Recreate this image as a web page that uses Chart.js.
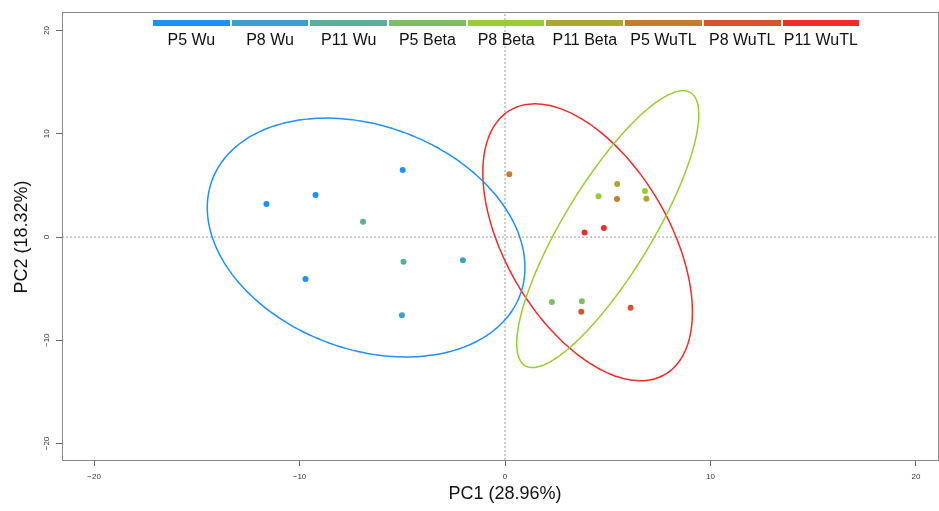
<!DOCTYPE html>
<html>
<head>
<meta charset="utf-8">
<script src="https://cdn.jsdelivr.net/npm/chart.js@4.4.1/dist/chart.umd.min.js"></script>
<style>
  html, body { margin: 0; background: #fff; overflow: hidden; }
  #wrap { position: relative; width: 939px; height: 511px; overflow: hidden; }
  #pca { display: block; width: 943px; height: 511px; }
  #legend { position: absolute; left: 152px; top: 20px; display: flex; font-family: 'Liberation Sans', Arial, sans-serif; }
  .leg-item { width: 78.7px; text-align: center; }
  .leg-bar { height: 6px; margin: 0 1px; }
  .leg-label { font-size: 16px; color: #111; margin-top: 5px; white-space: nowrap; }
</style>
</head>
<body>
<div id="wrap">
  <canvas id="pca" width="943" height="511"></canvas>
  <div id="legend"></div>
</div>
<script>
// sample groups, one colour each (blue -> yellowgreen -> red ramp)
const groups = ['P5 Wu', 'P8 Wu', 'P11 Wu', 'P5 Beta', 'P8 Beta', 'P11 Beta', 'P5 WuTL', 'P8 WuTL', 'P11 WuTL'];
const groupColors = ['#1e90ff', '#3d9fcc', '#5cae99', '#7bbe65', '#9acd32', '#afa531', '#c47d2f', '#d9542e', '#ee2c2c'];

// PC scores per group
const pc1 = [
  [-11.61, -9.22, -4.98, -9.71],
  [-5.02, -2.05],
  [-6.91, -4.94],
  [2.28, 3.74],
  [4.55, 6.81],
  [5.46, 6.88],
  [0.21, 5.45],
  [3.71, 6.11],
  [3.87, 4.81],
];
const pc2 = [
  [3.19, 4.07, 6.49, -4.07],
  [-7.58, -2.26],
  [1.48, -2.39],
  [-6.29, -6.22],
  [3.94, 4.45],
  [5.13, 3.71],
  [6.07, 3.68],
  [-7.23, -6.84],
  [0.45, 0.87],
];

// confidence ellipses for the three treatments
const ellipseColors = ['#1e90ff', '#9acd32', '#ee2c2c'];
const ellipseCx = [-6.76, 5.00, 4.02];
const ellipseCy = [-0.05, 0.77, -0.51];
const ellipseHalfX = [7.73, 4.43, 5.10];
const ellipseHalfY = [11.57, 13.41, 13.41];
const ellipseCorr = [-0.251, 0.827, -0.504];

const xTicks = [-20, -10, 0, 10, 20];
const yTicks = [-20, -10, 0, 10, 20];
const xLimits = [-21.56, 21.12];
const yLimits = [-21.6, 21.8];

function ellipsePoints(i) {
  const pts = [];
  const r = ellipseCorr[i], s = Math.sqrt(1 - r * r);
  for (let k = 0; k <= 180; k++) {
    const t = 2 * Math.PI * k / 180;
    pts.push({
      x: ellipseCx[i] + ellipseHalfX[i] * Math.cos(t),
      y: ellipseCy[i] + ellipseHalfY[i] * (r * Math.cos(t) + s * Math.sin(t)),
    });
  }
  return pts;
}

const FONT = "'Liberation Sans', Arial, sans-serif";
const minus = v => String(v).replace('-', '\u2212');

const pointSets = groups.map((g, i) => ({
  label: g,
  data: pc1[i].map((x, j) => ({ x, y: pc2[i][j] })),
  backgroundColor: groupColors[i],
  borderColor: groupColors[i],
  pointRadius: 3,
  borderWidth: 0,
  order: 0,
}));

// small tension keeps chart.js off its per-column fast path, which flattens closed curves
const ellipseSets = ellipseColors.map((c, i) => ({
  label: 'ellipse ' + i,
  data: ellipsePoints(i),
  showLine: true,
  borderColor: c,
  borderWidth: 1.5,
  pointRadius: 0,
  fill: false,
  tension: 0.3,
  order: 1,
}));

const zeroLines = [
  { data: [{ x: 0, y: yLimits[0] }, { x: 0, y: yLimits[1] }] },
  { data: [{ x: xLimits[0], y: 0 }, { x: xLimits[1], y: 0 }] },
].map(d => ({
  ...d, showLine: true, borderColor: '#999', borderWidth: 1, borderDash: [2, 2], pointRadius: 0, order: 2,
}));

// frame box, tick labels (y ones rotated) and axis titles
const annotations = {
  id: 'annotations',
  afterDraw(chart) {
    const { ctx, chartArea: a, scales } = chart;
    ctx.save();
    ctx.strokeStyle = '#888';
    ctx.lineWidth = 1;
    ctx.strokeRect(a.left + 0.5, a.top + 0.5, a.right - a.left - 1, a.bottom - a.top);
    ctx.fillStyle = '#333';
    ctx.font = '8px ' + FONT;
    ctx.textAlign = 'center';
    ctx.textBaseline = 'middle';
    xTicks.forEach(v => ctx.fillText(minus(v), scales.x.getPixelForValue(v), 477));
    yTicks.forEach(v => {
      ctx.save();
      ctx.translate(47, scales.y.getPixelForValue(v));
      ctx.rotate(-Math.PI / 2);
      ctx.fillText(minus(v), 0, 0);
      ctx.restore();
    });
    ctx.fillStyle = '#111';
    ctx.font = '18px ' + FONT;
    ctx.fillText('PC1 (28.96%)', scales.x.getPixelForValue(0), 494);
    ctx.translate(22, scales.y.getPixelForValue(0));
    ctx.rotate(-Math.PI / 2);
    ctx.fillText('PC2 (18.32%)', 0, 0);
    ctx.restore();
  }
};

new Chart(document.getElementById('pca'), {
  type: 'scatter',
  data: { datasets: [...pointSets, ...ellipseSets, ...zeroLines] },
  options: {
    responsive: false,
    animation: false,
    layout: { padding: { top: 12, right: 1, left: 0, bottom: 0 } },
    plugins: { legend: { display: false }, tooltip: { enabled: false } },
    scales: {
      x: {
        type: 'linear', min: xLimits[0], max: xLimits[1],
        afterBuildTicks: s => { s.ticks = xTicks.map(v => ({ value: v })); },
        afterFit: s => { s.height = 51; },
        grid: { drawOnChartArea: false, drawTicks: true, tickLength: 6, color: '#666' },
        border: { display: true, color: '#888' },
        ticks: { display: false },
      },
      y: {
        type: 'linear', min: yLimits[0], max: yLimits[1],
        afterBuildTicks: s => { s.ticks = yTicks.map(v => ({ value: v })); },
        afterFit: s => { s.width = 62; },
        grid: { drawOnChartArea: false, drawTicks: true, tickLength: 6, color: '#666' },
        border: { display: true, color: '#888' },
        ticks: { display: false },
      },
    },
  },
  plugins: [annotations],
});

document.getElementById('legend').innerHTML = groups.map((g, i) =>
  `<div class="leg-item"><div class="leg-bar" style="background:${groupColors[i]}"></div><div class="leg-label">${g}</div></div>`
).join('');
</script>
</body>
</html>
